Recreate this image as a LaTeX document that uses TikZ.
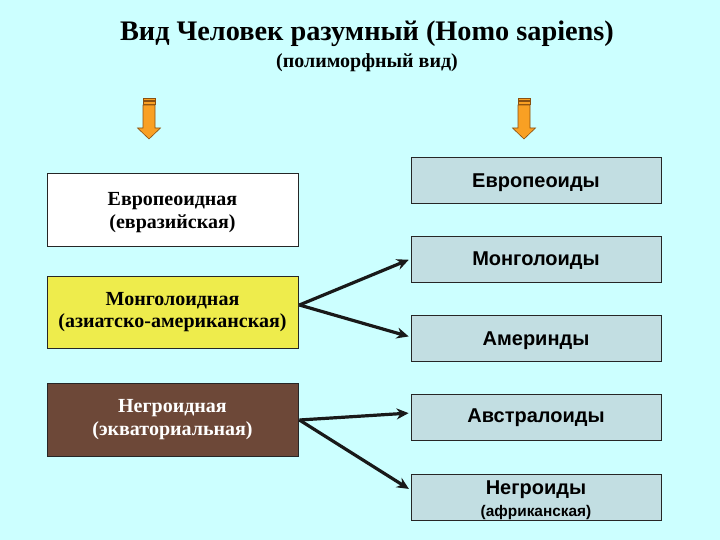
\documentclass[tikz,border=0pt]{standalone}
\usepackage{fontspec}
\setmainfont{Liberation Serif}
\newfontfamily\arialf{Liberation Sans}
\usetikzlibrary{arrows.meta,calc}
\definecolor{bgc}{HTML}{CCFFFF}
\definecolor{rbox}{HTML}{C2DEE2}
\definecolor{ybox}{HTML}{EEEC4C}
\definecolor{bbox}{HTML}{6D4838}
\definecolor{arrfill}{HTML}{F9A023}
\definecolor{arrline}{HTML}{8A5010}
\newcommand{\lowr}[2]{\raisebox{-#1}[\height][\depth]{#2}}
\tikzset{
  lbox/.style={draw=black!85, line width=0.8pt, minimum width=251pt, minimum height=73pt,
    align=center, inner sep=2pt, font=\bfseries\fontsize{20}{22.5}\selectfont},
  rboxst/.style={draw=black!85, line width=0.8pt, fill=rbox, minimum width=250pt, minimum height=46pt,
    align=center, inner sep=2pt, font=\arialf\bfseries\fontsize{20}{22}\selectfont},
  conn/.style={line width=3.2pt, draw=black!90, -{Stealth[length=12pt,width=11pt]}, shorten >=2pt},
  darr/.style={fill=arrfill, draw=arrline, line width=0.6pt}
}
\begin{document}
\begin{tikzpicture}[x=1pt,y=-1pt]
\fill[bgc] (0,0) rectangle (720,540);
\useasboundingbox (0,0) rectangle (720,540);

\node[font=\bfseries\fontsize{28.3}{32}\selectfont] (title) at (367,34) {Вид Человек разумный (Homo sapiens)};
\node[font=\bfseries\fontsize{20}{22}\selectfont] (sub) at (367,63) {(полиморфный вид)};

% down arrows
\foreach \cx in {149,524}{
  \filldraw[darr] (\cx-6,98) rectangle (\cx+6,100.3);
  \filldraw[darr] (\cx-6,101.6) rectangle (\cx+6,103.9);
  \filldraw[darr] (\cx-6,105) -- (\cx+6,105) -- (\cx+6,128) -- (\cx+11.5,128)
     -- (\cx,139) -- (\cx-11.5,128) -- (\cx-6,128) -- cycle;
}

% left boxes
\node[lbox, fill=white] (eur) at (172.5,209.5) {\lowr{3pt}{Европеоидная}\\\lowr{3pt}{(евразийская)}};
\node[lbox, fill=ybox, minimum height=72pt] (mong) at (172.5,312) {Монголоидная\\(азиатско-американская)};
\node[lbox, fill=bbox, text=white] (neg) at (172.5,419.5) {Негроидная\\(экваториальная)};

% right boxes
\node[rboxst] (r1) at (536,180) {\lowr{3pt}{Европеоиды}};
\node[rboxst] (r2) at (536,259) {\lowr{2pt}{Монголоиды}};
\node[rboxst] (r3) at (536,338) {\lowr{3pt}{Америнды}};
\node[rboxst] (r4) at (536,417) {\lowr{1pt}{Австралоиды}};
\node[rboxst, align=center] (r5) at (536,497) {\lowr{3pt}{Негроиды}\\{\fontsize{15.4}{17}\selectfont\lowr{3pt}{(африканская)}}};

% connectors
\coordinate (ms) at ($(mong.east)+(1,-7)$);
\coordinate (ns) at ($(neg.east)+(1,0.5)$);
\draw[conn] (ms) -- (r2.west);
\draw[conn] (ms) -- ($(r3.west)+(0,-1)$);
\draw[conn] (ns) -- ($(r4.west)+(0,-4)$);
\draw[conn] (ns) -- ($(r5.west)+(0,-7)$);
\end{tikzpicture}
\end{document}
